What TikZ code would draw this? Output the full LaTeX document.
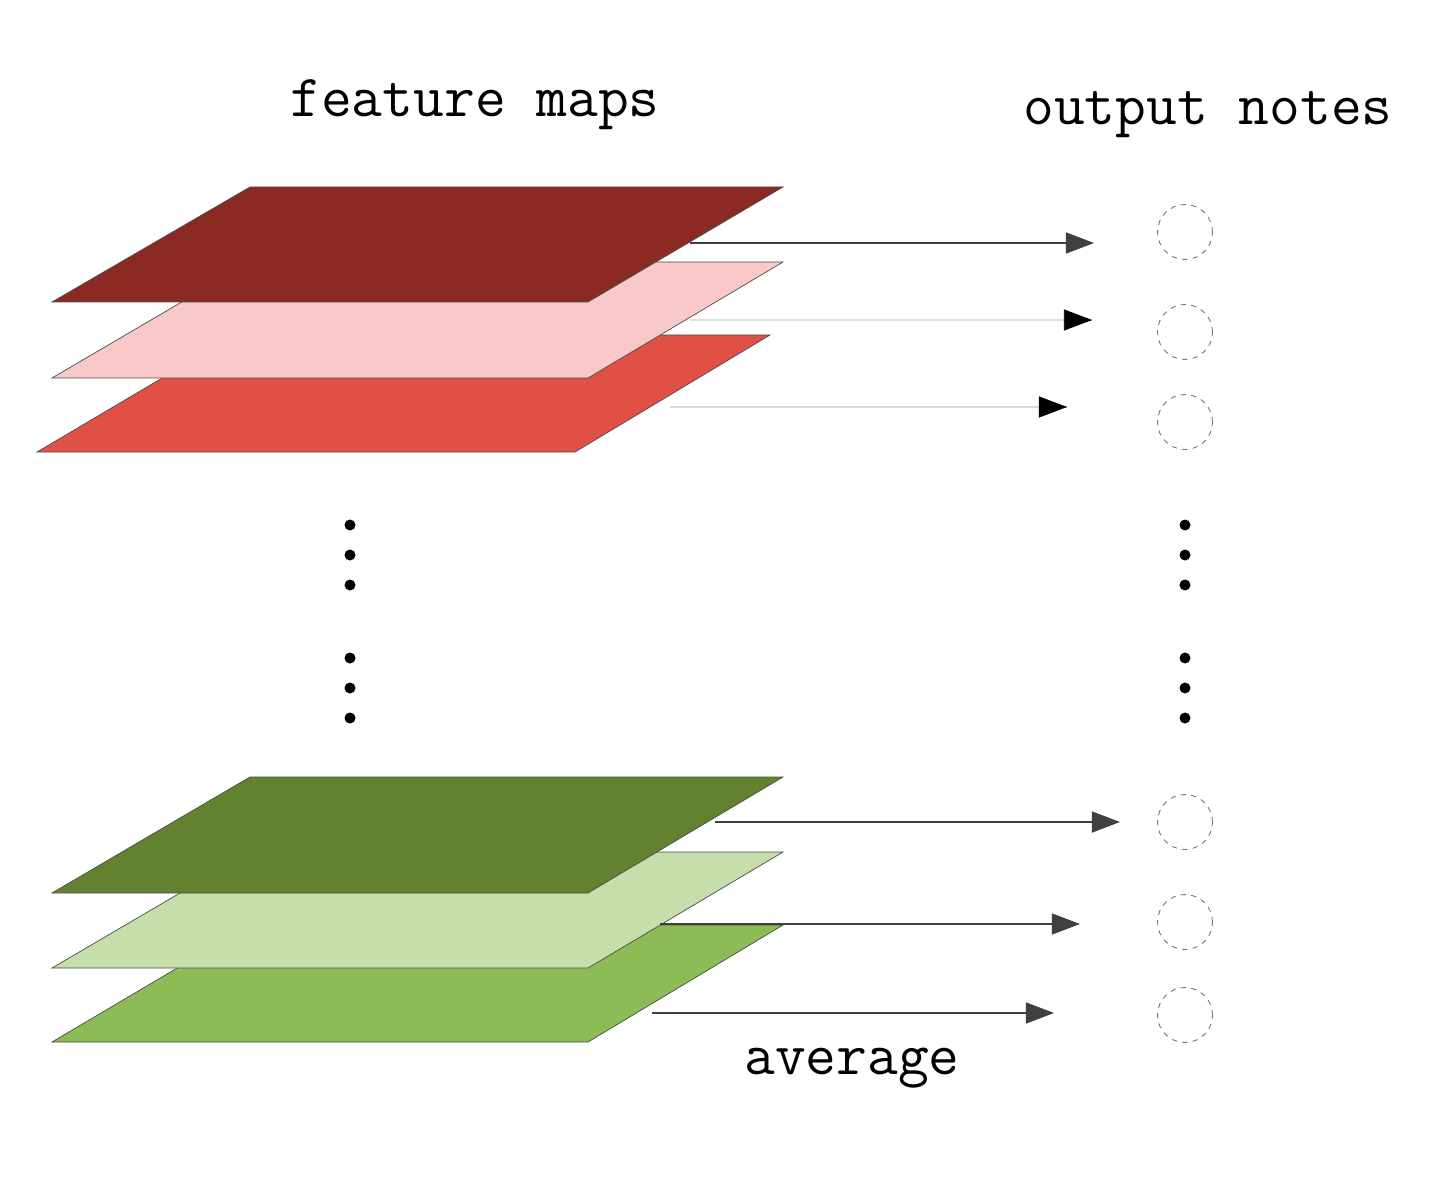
\documentclass[tikz,border=0pt]{standalone}
\usetikzlibrary{arrows.meta,calc}
\definecolor{dred}{HTML}{8B2A22}
\definecolor{pink}{HTML}{F8C9C8}
\definecolor{mred}{HTML}{E05045}
\definecolor{dgreen}{HTML}{628230}
\definecolor{lgreen}{HTML}{C5DEAA}
\definecolor{mgreen}{HTML}{8DBB55}
\begin{document}
\begin{tikzpicture}[x=0.02cm,y=-0.02cm,
  sheet/.style={draw=black!70,line width=0.4pt},
  arr/.style={-{Triangle[length=16pt,width=12pt]},line width=0.8pt,draw=black!75},
  node/.style={circle,draw=black!55,dashed,line width=0.5pt,minimum size=1.1cm,inner sep=0pt},
  dot/.style={circle,fill=black,inner sep=0pt,minimum size=0.22cm},
  lab/.style={font=\fontsize{34}{40}\selectfont\ttfamily}]
\useasboundingbox (0,0) rectangle (1441,1179);
% sheets (bottom first)
\fill[sheet,fill=mred] (235,335) -- (770,335) -- (575,452) -- (37,452) -- cycle;
\fill[sheet,fill=pink] (250,262) -- (783,262) -- (588,378) -- (52,378) -- cycle;
\fill[sheet,fill=dred] (250,187) -- (783,187) -- (588,302) -- (52,302) -- cycle;
\fill[sheet,fill=mgreen] (250,925) -- (783,925) -- (588,1042) -- (52,1042) -- cycle;
\fill[sheet,fill=lgreen] (250,852) -- (783,852) -- (588,968) -- (52,968) -- cycle;
\fill[sheet,fill=dgreen] (250,777) -- (783,777) -- (588,893) -- (52,893) -- cycle;
% labels
\node[lab] (fm) at (475,105) {feature maps};
\node[lab] (on) at (1208,115) {output notes};
\node[lab] (avg) at (852,1068) {average};
% output nodes
\node[node] (n1) at (1185,232) {};
\node[node] (n2) at (1185,332) {};
\node[node] (n3) at (1185,422) {};
\node[node] (n4) at (1185,822) {};
\node[node] (n5) at (1185,922) {};
\node[node] (n6) at (1185,1015) {};
% arrow coordinates
\coordinate (s1) at (690,243); \coordinate (e1) at (1094,243);
\coordinate (s2) at (690,320); \coordinate (e2) at (1092,320);
\coordinate (s3) at (670,407); \coordinate (e3) at (1067,407);
\coordinate (s4) at (715,822); \coordinate (e4) at (1120,822);
\coordinate (s5) at (660,924); \coordinate (e5) at (1080,924);
\coordinate (s6) at (652,1013); \coordinate (e6) at (1054,1013);
\draw[arr] (s1) -- (e1);
\draw[line width=0.8pt,draw=black!12] (s2) -- (e2);
\draw[-{Triangle[length=16pt,width=12pt]},black] ($(e2)+(-1,0)$) -- (e2);
\draw[line width=0.8pt,draw=black!15] (s3) -- (e3);
\draw[-{Triangle[length=16pt,width=12pt]},black] ($(e3)+(-1,0)$) -- (e3);
\draw[arr] (s4) -- (e4);
\draw[arr] (s5) -- (e5);
\draw[arr] (s6) -- (e6);
% dots
\foreach \y in {525,555,585,658,688,718}{
  \node[dot] at (350,\y) {};
  \node[dot] at (1185,\y) {};
}
\end{tikzpicture}
\end{document}
